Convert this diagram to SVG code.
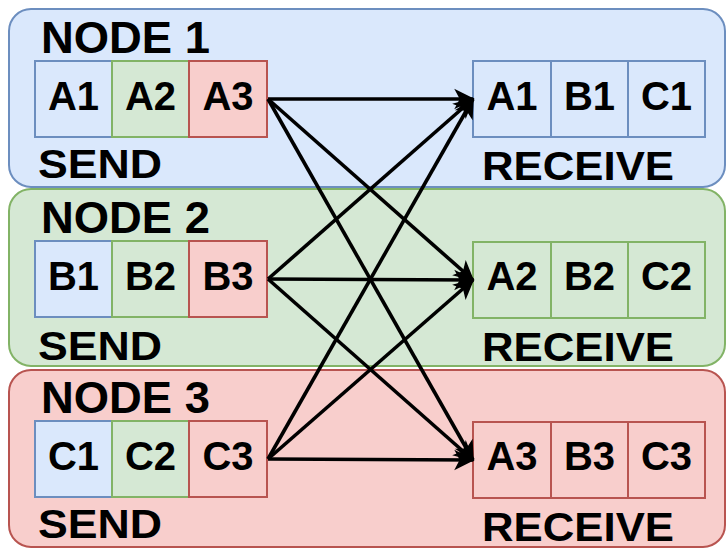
<svg xmlns="http://www.w3.org/2000/svg" width="728" height="549" viewBox="0 0 728 549">
<defs>
<marker id="arr" markerUnits="userSpaceOnUse" markerWidth="24" markerHeight="24" viewBox="-20 -12 24 24" refX="0" refY="0" orient="auto">
<path d="M0,0 L-17,-8.5 L-12.5,0 L-17,8.5 Z" fill="#000" stroke="#000" stroke-width="1.5" stroke-linejoin="miter"/>
</marker>
</defs>
<style>
.blue{fill:#dae8fc;stroke:#6c8ebf;stroke-width:2}
.green{fill:#d5e8d4;stroke:#82b366;stroke-width:2}
.red{fill:#f8cecc;stroke:#b85450;stroke-width:2}
text{font-family:"Liberation Sans",Arial,Helvetica,sans-serif;font-weight:bold;fill:#000}
.ttl{font-size:44px}
.lbl{font-size:41px}
.cell{font-size:40px;text-anchor:middle}
.conn line{stroke:#000;stroke-width:3.6;fill:none;marker-end:url(#arr)}
</style>
<g id="node1">
<rect class="blue" x="9" y="9" width="716" height="178" rx="22"/>
<text class="ttl" x="41" y="53" textLength="169" lengthAdjust="spacingAndGlyphs">NODE 1</text>
<rect class="blue" x="35" y="61" width="77" height="76"/>
<rect class="green" x="112" y="61" width="77" height="76"/>
<rect class="red" x="189" y="61" width="78" height="76"/>
<text class="cell" x="73.5" y="110">A1</text>
<text class="cell" x="150.5" y="110">A2</text>
<text class="cell" x="228" y="110">A3</text>
<text class="lbl" x="38" y="178" textLength="124" lengthAdjust="spacingAndGlyphs">SEND</text>
<rect class="blue" x="473" y="61" width="78" height="76"/>
<rect class="blue" x="551" y="61" width="77" height="76"/>
<rect class="blue" x="628" y="61" width="77" height="76"/>
<text class="cell" x="512" y="110">A1</text>
<text class="cell" x="589.5" y="110">B1</text>
<text class="cell" x="666.5" y="110">C1</text>
<text class="lbl" x="482" y="180" textLength="192" lengthAdjust="spacingAndGlyphs">RECEIVE</text>
</g>
<g id="node2">
<rect class="green" x="9" y="189" width="716" height="177" rx="22"/>
<text class="ttl" x="41" y="233" textLength="169" lengthAdjust="spacingAndGlyphs">NODE 2</text>
<rect class="blue" x="35" y="241" width="77" height="76"/>
<rect class="green" x="112" y="241" width="77" height="76"/>
<rect class="red" x="189" y="241" width="78" height="76"/>
<text class="cell" x="73.5" y="290">B1</text>
<text class="cell" x="150.5" y="290">B2</text>
<text class="cell" x="228" y="290">B3</text>
<text class="lbl" x="38" y="360" textLength="124" lengthAdjust="spacingAndGlyphs">SEND</text>
<rect class="green" x="473" y="242" width="78" height="76"/>
<rect class="green" x="551" y="242" width="77" height="76"/>
<rect class="green" x="628" y="242" width="77" height="76"/>
<text class="cell" x="512" y="290">A2</text>
<text class="cell" x="589.5" y="290">B2</text>
<text class="cell" x="666.5" y="290">C2</text>
<text class="lbl" x="482" y="361" textLength="192" lengthAdjust="spacingAndGlyphs">RECEIVE</text>
</g>
<g id="node3">
<rect class="red" x="9" y="370" width="716" height="177" rx="22"/>
<text class="ttl" x="41" y="413" textLength="169" lengthAdjust="spacingAndGlyphs">NODE 3</text>
<rect class="blue" x="35" y="421" width="77" height="76"/>
<rect class="green" x="112" y="421" width="77" height="76"/>
<rect class="red" x="189" y="421" width="78" height="76"/>
<text class="cell" x="73.5" y="470">C1</text>
<text class="cell" x="150.5" y="470">C2</text>
<text class="cell" x="228" y="470">C3</text>
<text class="lbl" x="38" y="538" textLength="124" lengthAdjust="spacingAndGlyphs">SEND</text>
<rect class="red" x="473" y="422" width="78" height="76"/>
<rect class="red" x="551" y="422" width="77" height="76"/>
<rect class="red" x="628" y="422" width="77" height="76"/>
<text class="cell" x="512" y="470">A3</text>
<text class="cell" x="589.5" y="470">B3</text>
<text class="cell" x="666.5" y="470">C3</text>
<text class="lbl" x="482" y="541" textLength="192" lengthAdjust="spacingAndGlyphs">RECEIVE</text>
</g>
<g id="connectors" class="conn">
<line x1="268" y1="99" x2="473" y2="99"/>
<line x1="268" y1="99" x2="473" y2="280"/>
<line x1="268" y1="99" x2="473" y2="460"/>
<line x1="268" y1="279" x2="473" y2="99"/>
<line x1="268" y1="279" x2="473" y2="280"/>
<line x1="268" y1="279" x2="473" y2="460"/>
<line x1="268" y1="459" x2="473" y2="99"/>
<line x1="268" y1="459" x2="473" y2="280"/>
<line x1="268" y1="459" x2="473" y2="460"/>
</g>
</svg>
